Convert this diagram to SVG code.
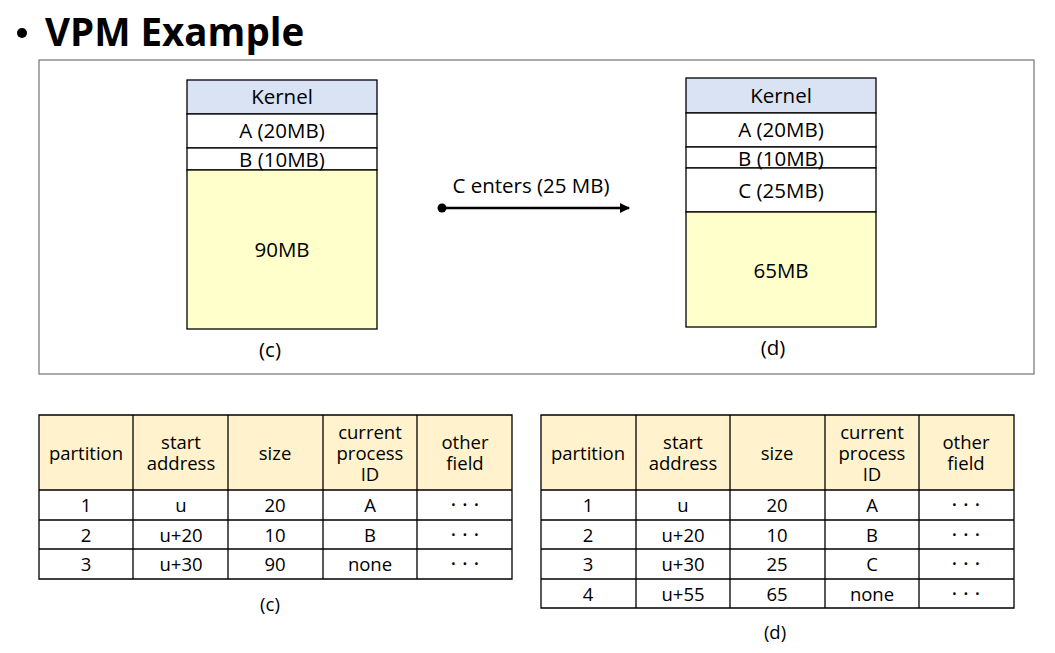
<svg xmlns="http://www.w3.org/2000/svg" width="1055" height="653" viewBox="0 0 1055 653">
<style>
text{font-family:"Open Sans","Noto Sans","Liberation Sans",sans-serif;fill:#000;text-anchor:middle}
.m{font-size:20.5px}
.t{font-size:18.5px}
.d{font-size:22px}
.b{stroke:#000;stroke-width:1.3}
.g{stroke:#000;stroke-width:1.3;fill:none}
.k{fill:#DAE3F3}
.w{fill:#fff}
.y{fill:#FFFFCC}
.h{fill:#FFF2CC}
</style>
<defs>
<marker id="ah" viewBox="0 0 10 10" refX="9" refY="5" markerWidth="11" markerHeight="10" markerUnits="userSpaceOnUse" orient="auto">
<path d="M0,0 L10,5 L0,10 z" fill="#000"/>
</marker>
</defs>
<rect width="1055" height="653" fill="#fff"/>
<g id="title">
<circle cx="22" cy="33" r="5" fill="#000"/>
<text x="45" y="46" style="font-size:38.5px;font-weight:bold;text-anchor:start">VPM Example</text>
</g>
<rect id="frame" x="39" y="60" width="995" height="314" fill="none" stroke="#7f7f7f" stroke-width="1.3"/>
<g id="memC">
<rect class="k b" x="187" y="80" width="190" height="34"/>
<rect class="w b" x="187" y="114" width="190" height="34"/>
<rect class="w b" x="187" y="148" width="190" height="22"/>
<rect class="y b" x="187" y="170" width="190" height="159"/>
<text class="m" x="282" y="104">Kernel</text>
<text class="m" x="282" y="138">A (20MB)</text>
<text class="m" x="282" y="167">B (10MB)</text>
<text class="m" x="282" y="257">90MB</text>
<text class="m" x="270" y="357">(c)</text>
</g>
<g id="memD">
<rect class="k b" x="686" y="78" width="190" height="35"/>
<rect class="w b" x="686" y="113" width="190" height="34"/>
<rect class="w b" x="686" y="147" width="190" height="21"/>
<rect class="w b" x="686" y="168" width="190" height="44"/>
<rect class="y b" x="686" y="212" width="190" height="115"/>
<text class="m" x="781" y="103">Kernel</text>
<text class="m" x="781" y="137">A (20MB)</text>
<text class="m" x="781" y="166">B (10MB)</text>
<text class="m" x="781" y="198">C (25MB)</text>
<text class="m" x="781" y="278">65MB</text>
<text class="m" x="773" y="355">(d)</text>
</g>
<g id="connectors">
<circle cx="442" cy="208" r="4.5" fill="#000"/>
<line x1="442" y1="208" x2="629" y2="208" stroke="#000" stroke-width="2.5" marker-end="url(#ah)"/>
<text class="m" x="531" y="193">C enters (25 MB)</text>
</g>
<g id="tableC">
<rect class="h" x="39" y="415" width="473" height="75"/>
<rect class="w" x="39" y="490" width="473" height="89"/>
<path class="g" d="M39,415H512V579H39Z M39,490H512 M39,520H512 M39,549H512 M133,415V579 M228,415V579 M323,415V579 M417,415V579"/>
<g class="t">
<text x="86" y="460">partition</text>
<text x="181" y="449">start</text><text x="181" y="470">address</text>
<text x="275" y="460">size</text>
<text x="370" y="439">current</text><text x="370" y="460">process</text><text x="370" y="481">ID</text>
<text x="465" y="449">other</text><text x="465" y="470">field</text>
<text x="86" y="512">1</text><text x="181" y="512">u</text><text x="275" y="512">20</text><text x="370" y="512">A</text>
<text x="86" y="542">2</text><text x="181" y="542">u+20</text><text x="275" y="542">10</text><text x="370" y="542">B</text>
<text x="86" y="571">3</text><text x="181" y="571">u+30</text><text x="275" y="571">90</text><text x="370" y="571">none</text>
<text x="270" y="611">(c)</text>
</g>
<g class="d">
<text x="465" y="512">· · ·</text><text x="465" y="542">· · ·</text><text x="465" y="571">· · ·</text>
</g>
</g>
<g id="tableD">
<rect class="h" x="541" y="415" width="473" height="75"/>
<rect class="w" x="541" y="490" width="473" height="118"/>
<path class="g" d="M541,415H1014V608H541Z M541,490H1014 M541,520H1014 M541,549H1014 M541,579H1014 M636,415V608 M730,415V608 M825,415V608 M919,415V608"/>
<g class="t">
<text x="588" y="460">partition</text>
<text x="683" y="449">start</text><text x="683" y="470">address</text>
<text x="777" y="460">size</text>
<text x="872" y="439">current</text><text x="872" y="460">process</text><text x="872" y="481">ID</text>
<text x="966" y="449">other</text><text x="966" y="470">field</text>
<text x="588" y="512">1</text><text x="683" y="512">u</text><text x="777" y="512">20</text><text x="872" y="512">A</text>
<text x="588" y="542">2</text><text x="683" y="542">u+20</text><text x="777" y="542">10</text><text x="872" y="542">B</text>
<text x="588" y="571">3</text><text x="683" y="571">u+30</text><text x="777" y="571">25</text><text x="872" y="571">C</text>
<text x="588" y="601">4</text><text x="683" y="601">u+55</text><text x="777" y="601">65</text><text x="872" y="601">none</text>
<text x="775" y="639">(d)</text>
</g>
<g class="d">
<text x="966" y="512">· · ·</text><text x="966" y="542">· · ·</text><text x="966" y="571">· · ·</text><text x="966" y="601">· · ·</text>
</g>
</g>
</svg>
